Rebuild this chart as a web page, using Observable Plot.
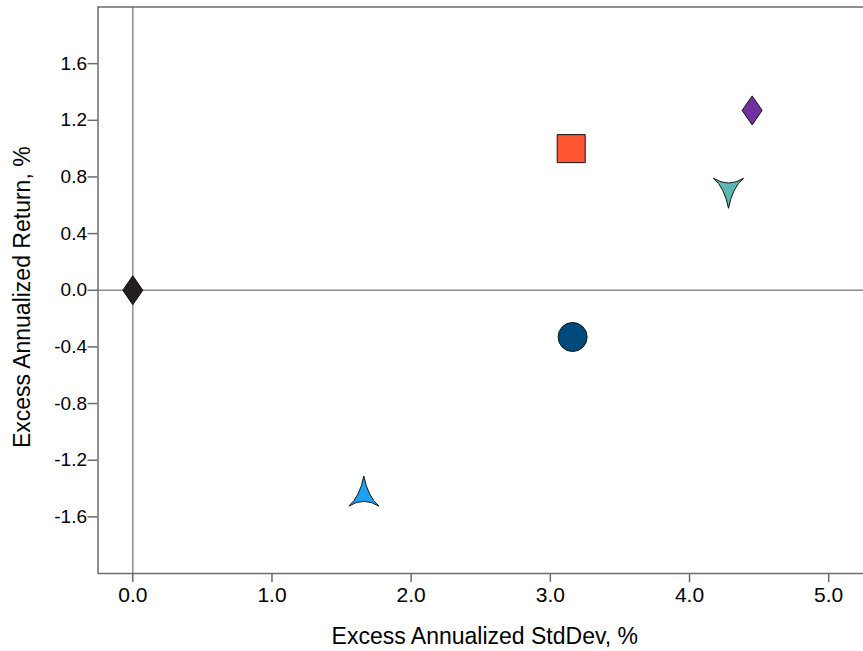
<!DOCTYPE html>
<html>
<head>
<meta charset="utf-8">
<script src="https://cdn.jsdelivr.net/npm/d3@7"></script>
<script src="https://cdn.jsdelivr.net/npm/@observablehq/plot@0.6"></script>
<style>
  html, body { margin: 0; padding: 0; background: #fff; }
  #chart svg { display: block; }
</style>
</head>
<body>
<div id="chart"></div>
<script>
// ---- Data ----
const seriesNames = ["Benchmark", "Series 1", "Series 2", "Series 3", "Series 4", "Series 5"];
const stdDevValues = [0.00, 3.15, 4.45, 4.28, 3.16, 1.66];
const returnValues = [0.00, 1.00, 1.27, 0.72, -0.33, -1.45];
const shapeNames   = ["diamond", "square", "diamond", "arrowDown", "circle", "arrowUp"];
const colorValues  = ["#231F20", "#FF5733", "#7030A0", "#5BB8B1", "#004B7C", "#1DA1F2"];

const xTicks = [0, 1, 2, 3, 4, 5];
const yTicks = [-1.6, -1.2, -0.8, -0.4, 0, 0.4, 0.8, 1.2, 1.6];
const xDomain = [-0.25, 5.25];
const yDomain = [-2, 2];
const xTitle = "Excess Annualized StdDev, %";
const yTitle = "Excess Annualized Return, %";

const data = seriesNames.map((name, i) => ({
  name, x: stdDevValues[i], y: returnValues[i], shape: shapeNames[i], color: colorValues[i]
}));

// ---- Custom symbols (drawn relative to r = 14.5) ----
const R0 = 14.5;
const kOf = size => Math.sqrt(size / Math.PI) / R0;
const symbols = {
  circle: d3.symbolCircle,
  square: { draw(c, size) { const k = kOf(size), s = 14 * k; c.moveTo(-s, -s); c.lineTo(s, -s); c.lineTo(s, s); c.lineTo(-s, s); c.closePath(); } },
  diamond: { draw(c, size) { const k = kOf(size); c.moveTo(0, -14.5 * k); c.lineTo(10 * k, 0); c.lineTo(0, 14.5 * k); c.lineTo(-10 * k, 0); c.closePath(); } },
  arrowUp: { draw(c, size) { const k = kOf(size);
    c.moveTo(0, -19.5 * k);
    c.quadraticCurveTo(4 * k, 1 * k, 15 * k, 10.5 * k);
    c.quadraticCurveTo(0, 1 * k, -15 * k, 10.5 * k);
    c.quadraticCurveTo(-4 * k, 1 * k, 0, -19.5 * k);
    c.closePath(); } },
  arrowDown: { draw(c, size) { const k = kOf(size);
    c.moveTo(0, 20 * k);
    c.quadraticCurveTo(4 * k, -1 * k, 15 * k, -10 * k);
    c.quadraticCurveTo(0, -0.5 * k, -15 * k, -10 * k);
    c.quadraticCurveTo(-4 * k, -1 * k, 0, 20 * k);
    c.closePath(); } }
};

const frameColor = "#6b6b6b";
const dotMarks = data.map(d => Plot.dot([d], {
  x: "x", y: "y", r: R0,
  symbol: symbols[d.shape],
  fill: d.color, stroke: "#111", strokeWidth: 1
}));

const chart = Plot.plot({
  width: 863,
  height: 651,
  marginLeft: 97.5,
  marginRight: 0,
  marginTop: 6.5,
  marginBottom: 78,
  style: { fontFamily: "'Liberation Sans', Arial, sans-serif", fontSize: "20px", color: "#000", background: "#fff" },
  x: { domain: xDomain },
  y: { domain: yDomain },
  marks: [
    Plot.ruleX([0], { stroke: "#8c8c8c", strokeWidth: 1.5 }),
    Plot.ruleY([0], { stroke: "#8c8c8c", strokeWidth: 1.5 }),
    Plot.ruleX([xDomain[0]], { stroke: frameColor, strokeWidth: 1.5 }),
    Plot.ruleY([yDomain[0]], { stroke: frameColor, strokeWidth: 1.5 }),
    Plot.ruleY([yDomain[1]], { stroke: frameColor, strokeWidth: 1.5 }),
    Plot.axisX({
      ticks: xTicks, tickFormat: d => d.toFixed(1), tickSize: 9, tickPadding: 5,
      stroke: frameColor, strokeWidth: 1.5, fontSize: 21, label: null
    }),
    Plot.axisY({
      ticks: yTicks, tickFormat: d => d.toFixed(1), tickSize: 10, tickPadding: 1,
      stroke: frameColor, strokeWidth: 1.5, fontSize: 19, label: null
    }),
    Plot.text([xTitle], {
      text: d => d, frameAnchor: "bottom", lineAnchor: "bottom", dx: 4, dy: 70,
      fontSize: 23, fill: "#000"
    }),
    Plot.text([yTitle], {
      text: d => d, frameAnchor: "left", textAnchor: "middle", lineAnchor: "top", rotate: -90, dx: -84, dy: 7,
      fontSize: 23, fill: "#000"
    }),
    ...dotMarks
  ]
});
document.getElementById("chart").appendChild(chart);
</script>
</body>
</html>
